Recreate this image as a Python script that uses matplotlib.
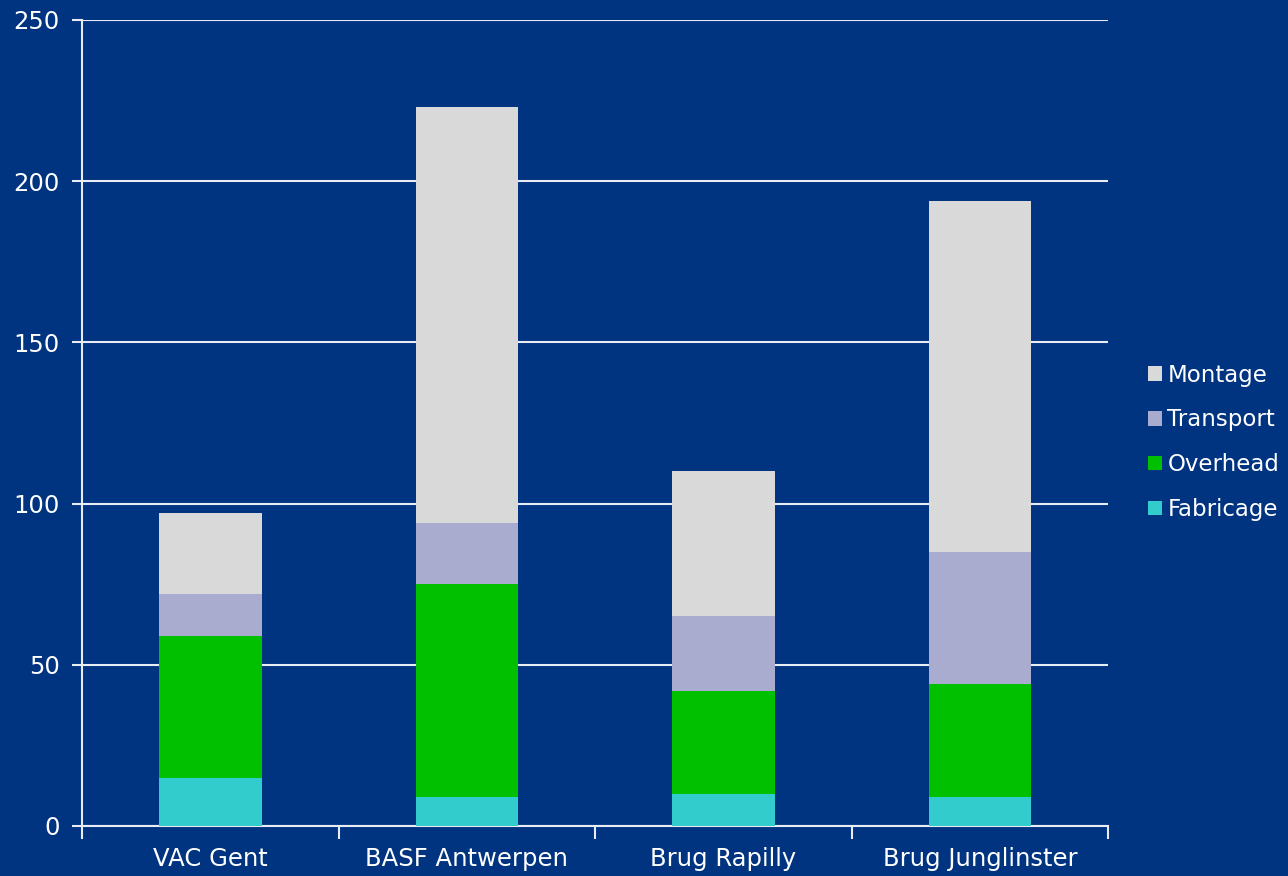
import numpy as np
import matplotlib.pyplot as plt

sites = ['VAC Gent', 'BASF Antwerpen', 'Brug Rapilly', 'Brug Junglinster']
fabricage = [15, 9, 10, 9]
overhead = [44, 66, 32, 35]
transport = [13, 19, 23, 41]
montage = [25, 129, 45, 109]

series = [('Fabricage', fabricage, '#33CCCC'),
          ('Overhead', overhead, '#00C000'),
          ('Transport', transport, '#A9ACCF'),
          ('Montage', montage, '#D9D9D9')]

bg = '#003380'
fg = '#E8ECF5'

plt.rcParams['font.family'] = ['DejaVu Sans']
fig = plt.figure(figsize=(12.88, 8.76), dpi=100, facecolor=bg)
ax = fig.add_axes([0.0637, 0.0571, 0.7966, 0.9201], facecolor=bg)

x = np.arange(len(sites))
bottom = np.zeros(len(sites))
handles = []
for name, vals, col in series:
    b = ax.bar(x, vals, 0.4, bottom=bottom, color=col, label=name, zorder=3)
    bottom += np.array(vals)
    handles.append(b)

ax.set_ylim(0, 250)
ax.set_yticks(np.arange(0, 251, 50))
ax.set_xlim(-0.5, len(sites) - 0.5)
ax.set_xticks(np.arange(-0.5, len(sites), 1))
ax.set_xticklabels([])
ax.set_xticks(x, minor=True)
ax.set_xticklabels(sites, minor=True)
ax.tick_params(axis='x', which='major', length=9, width=1.5, color=fg)
ax.tick_params(axis='x', which='minor', length=0, pad=15, labelsize=17.5, labelcolor='white')
ax.tick_params(axis='y', length=7, width=1.5, color=fg, pad=9, labelsize=17.5, labelcolor='white')

ax.grid(axis='y', color=fg, linewidth=1.5, zorder=0)
for s in ['top', 'right']:
    ax.spines[s].set_visible(False)
for s in ['left', 'bottom']:
    ax.spines[s].set_color(fg)
    ax.spines[s].set_linewidth(1.5)

leg = ax.legend(handles[::-1], [h.get_label() for h in handles[::-1]],
                loc='center left', bbox_to_anchor=(1.03, 0.476),
                frameon=False, fontsize=16.5, handlelength=0.6, handleheight=0.6,
                handletextpad=0.25, labelspacing=0.95, borderaxespad=0)
for t in leg.get_texts():
    t.set_color('white')

fig.savefig('out.png', dpi=100, facecolor=bg)
